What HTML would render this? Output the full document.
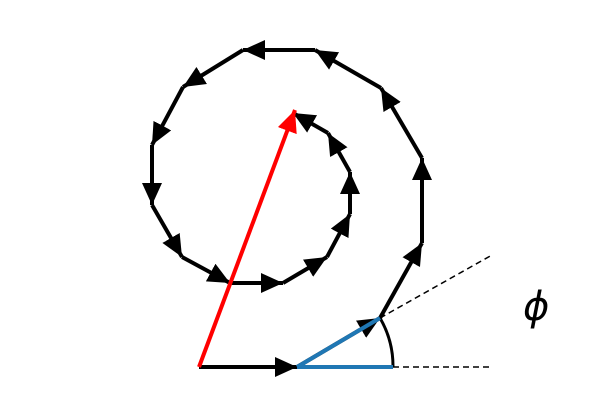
<!DOCTYPE html>
<html><head><style>html,body{margin:0;padding:0;background:#fff;}svg{display:block}</style></head>
<body>
<svg width="609" height="407" viewBox="0 0 609 407" xmlns="http://www.w3.org/2000/svg">
<defs>
<marker id="a" markerUnits="userSpaceOnUse" markerWidth="24" markerHeight="20" refX="22" refY="10" orient="auto"><path d="M0,0 L22,10 L0,20 Z" fill="#000"/></marker>
<marker id="r" markerUnits="userSpaceOnUse" markerWidth="24" markerHeight="20" refX="22" refY="10" orient="auto"><path d="M0,0 L22,10 L0,20 Z" fill="#f00"/></marker>
</defs>
<g stroke="#000" stroke-width="1.5" stroke-dasharray="6,4" fill="none">
<line x1="393" y1="367" x2="492" y2="367"/>
<line x1="380" y1="318" x2="492" y2="255"/>
</g>
<path d="M393,367 A96,96 0 0 0 380,318" stroke="#000" stroke-width="3" fill="none"/>
<g stroke="#000" stroke-width="4" fill="none" marker-end="url(#a)">
<line x1="199" y1="367" x2="297" y2="367"/>
<line x1="297" y1="367" x2="380" y2="318"/>
<line x1="380" y1="318" x2="422" y2="243"/>
<line x1="422" y1="243" x2="422" y2="158"/>
<line x1="422" y1="158" x2="381" y2="88"/>
<line x1="381" y1="88" x2="315" y2="50"/>
<line x1="315" y1="50" x2="243" y2="50"/>
<line x1="243" y1="50" x2="183" y2="87"/>
<line x1="183" y1="87" x2="152" y2="145"/>
<line x1="152" y1="145" x2="152" y2="205"/>
<line x1="152" y1="205" x2="182" y2="257"/>
<line x1="182" y1="257" x2="230" y2="283"/>
<line x1="230" y1="283" x2="283" y2="283"/>
<line x1="283" y1="283" x2="327" y2="257"/>
<line x1="327" y1="257" x2="350" y2="214"/>
<line x1="350" y1="214" x2="350" y2="172"/>
<line x1="350" y1="172" x2="328" y2="133"/>
<line x1="328" y1="133" x2="293" y2="113"/>
</g>
<g stroke="#1f77b4" stroke-width="4">
<line x1="297" y1="367" x2="393" y2="367"/>
<line x1="297" y1="367" x2="380" y2="318"/>
</g>
<line x1="199" y1="367" x2="295" y2="110" stroke="#f00" stroke-width="4" marker-end="url(#r)"/>
<text x="523" y="320" font-family="DejaVu Sans, sans-serif" font-style="italic" font-size="40">ϕ</text>
</svg>
</body></html>
